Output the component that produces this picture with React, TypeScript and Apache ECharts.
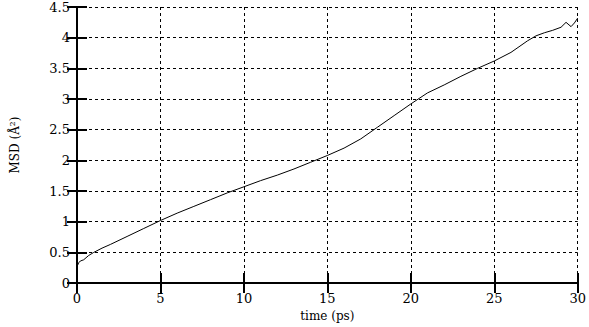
import React, { useEffect, useRef } from "react";
import * as echarts from "echarts";

const timePs = [0, 0.1, 0.2, 0.4, 0.7, 1, 1.5, 2, 3, 4, 5, 6, 7, 8, 9, 10, 11, 12, 13, 14, 15, 16, 17, 18, 19, 20, 21, 22, 23, 24, 25, 26, 27, 27.5, 28, 28.5, 29, 29.3, 29.6, 29.8, 30];
const msd = [0.27, 0.33, 0.36, 0.38, 0.45, 0.5, 0.57, 0.63, 0.76, 0.89, 1.02, 1.14, 1.25, 1.36, 1.47, 1.57, 1.67, 1.76, 1.86, 1.97, 2.08, 2.2, 2.35, 2.54, 2.73, 2.92, 3.1, 3.23, 3.37, 3.5, 3.62, 3.76, 3.95, 4.03, 4.08, 4.12, 4.17, 4.25, 4.18, 4.24, 4.32];

const xTitle = "time (ps)";
const yTitle = "MSD (Å²)";

const FONT = "DejaVu Serif";

export default function App() {
  const ref = useRef<HTMLDivElement>(null);
  useEffect(() => {
    if (!ref.current) return;
    const chart = echarts.init(ref.current, undefined, { renderer: "svg" });
    const axisLine = { show: true, lineStyle: { color: "#000", width: 2 } };
    const axisTick = { show: true, inside: true, length: 10, lineStyle: { color: "#000", width: 2 } };
    const label = { color: "#000", fontFamily: FONT, fontSize: 13 };
    const split = { show: true, lineStyle: { color: "#000", width: 1, type: [3, 3] } };
    chart.setOption({
      animation: false,
      backgroundColor: "#fff",
      grid: { left: 77, right: 9, top: 7, bottom: 40 },
      xAxis: [
        {
          type: "value", min: 0, max: 30, interval: 5, position: "bottom",
          axisLine, axisTick, splitLine: split,
          axisLabel: { ...label, margin: 9 },
          name: xTitle, nameLocation: "middle", nameGap: 18,
          nameTextStyle: { ...label, fontSize: 12 },
        },
        {
          type: "value", min: 0, max: 30, interval: 5, position: "top",
          axisLine, axisTick, splitLine: { show: false }, axisLabel: { show: false },
        },
      ],
      yAxis: [
        {
          type: "value", min: 0, max: 4.5, interval: 0.5, position: "left",
          axisLine, axisTick, splitLine: split,
          axisLabel: { ...label, margin: 7 },
          name: yTitle, nameLocation: "middle", nameGap: 56,
          nameTextStyle: { ...label, fontSize: 12 },
        },
        {
          type: "value", min: 0, max: 4.5, interval: 0.5, position: "right",
          axisLine, axisTick, splitLine: { show: false }, axisLabel: { show: false },
        },
      ],
      series: [
        {
          type: "line",
          data: timePs.map((t, i) => [t, msd[i]]),
          showSymbol: false,
          lineStyle: { color: "#000", width: 1 },
          z: 5,
        },
      ],
    });
    return () => chart.dispose();
  }, []);
  return <div ref={ref} style={{ width: 589, height: 327, position: "absolute", left: 0, top: 0 }} />;
}
